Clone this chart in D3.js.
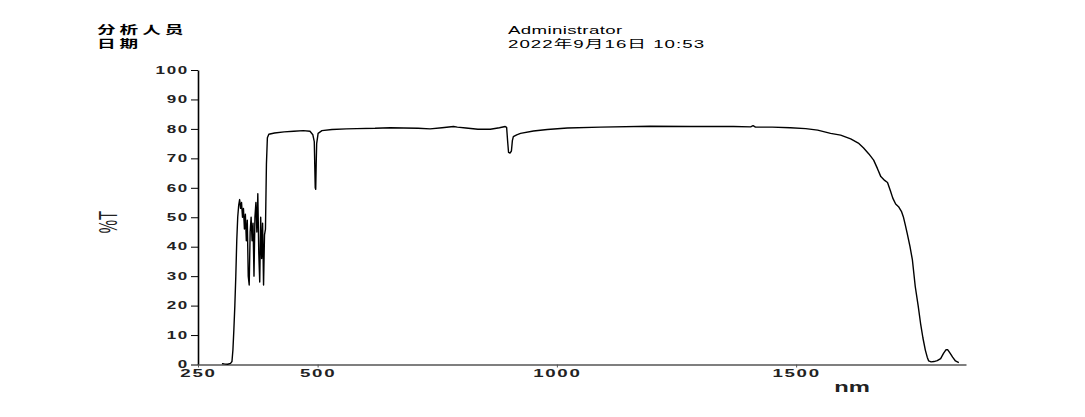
<!DOCTYPE html>
<html><head><meta charset="utf-8">
<script src="https://cdn.jsdelivr.net/npm/d3@7"></script>
<style>body{margin:0;background:#fff}svg{display:block}</style>
</head><body>
<svg id="c" width="1085" height="417"></svg>
<script>
const wavelengths = [300,305,312,318,321,323,325,327,329,331,333,335,337,339,341,343,345,347,349,351,353,355,357,359,361,363,365,367,369,371,373,375,377,379,381,383,385,387,389,391,393,395,398,410,430,450,470,484,490,493,495,496,497,498,501,509,530,560,582,620,652,680,710,735,760,784,792,810,835,861,880,892,895,897,899,902,905,907,909,916,924,951,980,1022,1091,1195,1279,1369,1405,1410,1415,1450,1488,1520,1545,1572,1593,1614,1630,1641,1652,1662,1670,1677,1685,1691,1697,1702,1708,1714,1720,1724,1728,1732,1738,1743,1749,1755,1760,1765,1770,1774,1777,1782,1788,1795,1802,1808,1813,1817,1822,1827,1833,1840];
const transmittance = [0.3,0.2,0.1,0.4,1.0,5,12,20,30,42,50,54,56,53,55,50,53,46,51,42,49,30,27,45,50,42,48,30,50,55,45,58,38,28,50,36,48,27,44,46,68,77,78.2,78.6,79,79.2,79.4,79.2,78,75.7,60,59.5,68,75,78.5,79.4,79.8,80.0,80.1,80.2,80.4,80.3,80.2,80.0,80.4,80.8,80.6,80.3,79.9,79.9,80.4,80.8,80.5,76,72,71.8,72.5,76,77.4,78.0,78.5,79.3,79.8,80.3,80.6,80.9,80.8,80.8,80.7,81.1,80.6,80.6,80.4,80.1,79.6,78.5,77.9,76.6,75.2,73.5,71.5,69.4,66.5,63.8,62.5,61.8,59,56.5,54.5,53.6,52,50.2,47.5,44.6,40,35.5,26.4,20,14,9,4.9,2.5,1.2,0.9,1.0,1.3,2.0,3.8,5.0,5.0,3.8,2.5,1.2,0.6];
const xTicks = [250,500,1000,1500];
const yTicks = [0,10,20,30,40,50,60,70,80,90,100];
const headerLabels = ["分析人员","日期"];
const headerValues = ["Administrator","2022年9月16日 10:53"];
const xTitle = "nm";
const yTitle = "%T";

const svg = d3.select("#c");
const SX = 1.7;
const x = d3.scaleLinear().domain([250,1855]).range([198,966]);
const y = d3.scaleLinear().domain([0,100]).range([364.5,70]);

// header
const hdr = svg.append("g");
headerLabels.forEach((t,i)=>{
  hdr.append("text").attr("transform",`translate(97,${34+i*14}) scale(${SX},1)`)
    .attr("font-family","'Noto Sans CJK SC','Liberation Sans',sans-serif")
    .attr("font-weight","bold").attr("font-size",11).attr("letter-spacing",2.3)
    .attr("fill","#000").text(t);
});
headerValues.forEach((t,i)=>{
  hdr.append("text").attr("transform",`translate(508,${34+i*14}) scale(${SX},1)`)
    .attr("font-family","'Liberation Sans','Noto Sans CJK SC',sans-serif")
    .attr("font-size",11).attr("letter-spacing",i===1?0.6:0.2).attr("fill","#000").text(t);
});

// y axis
const yAx = svg.append("g").attr("transform","translate(198,0)")
  .call(d3.axisLeft(y).tickValues(yTicks).tickFormat(d3.format("d")).tickSize(7).tickSizeOuter(0).tickPadding(2));
yAx.select(".domain").attr("stroke","#000").attr("stroke-width",1.6);
yAx.selectAll(".tick line").attr("stroke","#000").attr("stroke-width",1);
yAx.selectAll(".tick text")
  .attr("font-family","'Liberation Sans',sans-serif").attr("font-weight","bold")
  .attr("font-size",10).attr("fill","#222").attr("letter-spacing",1)
  .attr("x",-9/SX).attr("transform",`scale(${SX},1)`);

// x axis
const xAx = svg.append("g").attr("transform","translate(0,364.5)")
  .call(d3.axisBottom(x).tickValues(xTicks).tickFormat(d3.format("d")).tickSize(3).tickSizeOuter(0).tickPadding(2));
xAx.select(".domain").attr("stroke","#555").attr("stroke-width",1.3);
xAx.selectAll(".tick line").attr("stroke","#555");
xAx.selectAll(".tick text")
  .attr("font-family","'Liberation Sans',sans-serif").attr("font-weight","bold")
  .attr("font-size",11).attr("fill","#222").attr("letter-spacing",1)
  .attr("y",5).attr("transform",`scale(${SX},1)`);

// titles
svg.append("text").attr("transform",`translate(852,392) scale(${SX},1)`)
  .attr("text-anchor","middle").attr("font-family","'Liberation Sans',sans-serif")
  .attr("font-weight","bold").attr("font-size",14).attr("fill","#222").text(xTitle);
svg.append("text").attr("transform",`translate(117,222) scale(${SX},1) rotate(-90)`)
  .attr("text-anchor","middle").attr("font-family","'Liberation Sans',sans-serif")
  .attr("font-size",15).attr("fill","#222").text(yTitle);

// line
const pts = wavelengths.map((w,i)=>[w,transmittance[i]]);
svg.append("path").datum(pts)
  .attr("fill","none").attr("stroke","#000").attr("stroke-width",1.4)
  .attr("stroke-linejoin","round")
  .attr("d", d3.line().x(d=>x(d[0])).y(d=>y(d[1])));
</script>
</body></html>
